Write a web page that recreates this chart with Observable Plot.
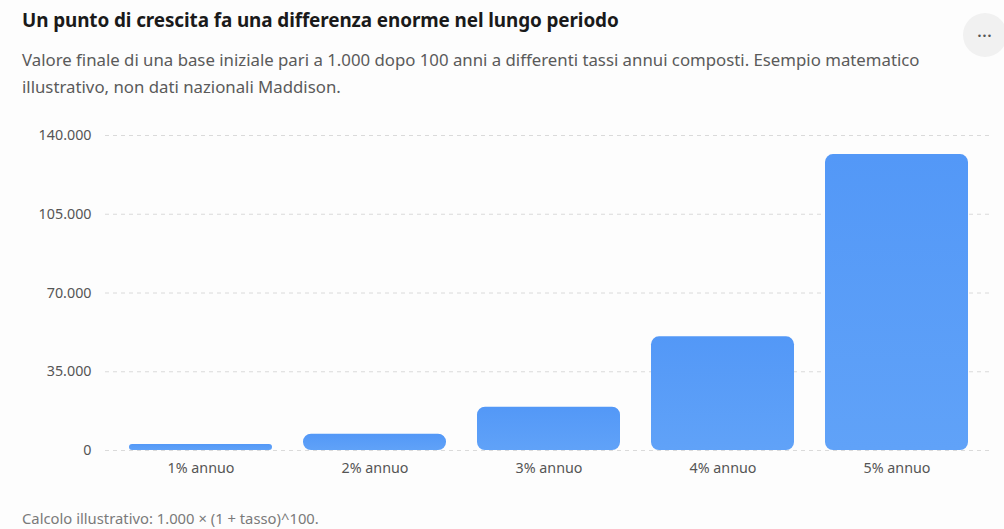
<!DOCTYPE html>
<html>
<head>
<meta charset="utf-8">
<script src="https://cdn.jsdelivr.net/npm/d3@7"></script>
<script src="https://cdn.jsdelivr.net/npm/@observablehq/plot@0.6"></script>
<style>
  html, body { margin: 0; padding: 0; background: #fdfdfd; }
  body { width: 1004px; height: 529px; position: relative; overflow: hidden; font-family: "Noto Sans", "Open Sans", sans-serif; }
  #title { position: absolute; left: 22px; top: 7px; font-size: 18.9px; font-weight: 700; color: #1a1a1a; letter-spacing: -0.1px; }
  #subtitle { position: absolute; left: 22px; top: 46px; width: 950px; font-size: 16.8px; line-height: 27px; color: #5a5a5a; }
  #more { position: absolute; left: 963px; top: 13px; width: 44px; height: 44px; border-radius: 50%; background: #f1f1f1; color: #555; font-size: 14px; text-align: center; line-height: 38px; font-weight: 700; letter-spacing: 1px; }
  #chart { position: absolute; left: 0; top: 110px; }
  #caption { position: absolute; left: 22px; top: 508px; font-size: 14.8px; color: #7a7a7a; }
</style>
</head>
<body>
<div id="title">Un punto di crescita fa una differenza enorme nel lungo periodo</div>
<div id="subtitle">Valore finale di una base iniziale pari a 1.000 dopo 100 anni a differenti tassi annui composti. Esempio matematico illustrativo, non dati nazionali Maddison.</div>
<div id="more">...</div>
<div id="chart"></div>
<div id="caption">Calcolo illustrativo: 1.000 × (1 + tasso)^100.</div>
<script>
const categories = ["1% annuo", "2% annuo", "3% annuo", "4% annuo", "5% annuo"];
const values = [2705, 7245, 19219, 50505, 131501];
const yTicks = [0, 35000, 70000, 105000, 140000];

const data = categories.map((c, i) => ({category: c, value: values[i]}));
const it = d3.formatLocale({decimal: ",", thousands: ".", grouping: [3], currency: ["€", ""]});
const fmt = it.format(",d");

const chart = Plot.plot({
  width: 1004,
  height: 370,
  marginLeft: 105,
  marginRight: 12,
  marginTop: 25,
  marginBottom: 30,
  style: {background: "transparent", fontFamily: "Noto Sans, Open Sans, sans-serif", fontSize: "14.3px", color: "#666"},
  x: {domain: categories, paddingInner: 0.18, paddingOuter: 0.135, label: null},
  y: {domain: [0, 140000], ticks: yTicks, label: null},
  marks: [
    Plot.gridY(yTicks, {stroke: "#dadada", strokeOpacity: 1, strokeDasharray: "4,4"}),
    Plot.barY(data, {x: "category", y: "value", fill: "url(#barGrad)", rx: 8, className: "bars"}),
    Plot.axisY(yTicks, {tickSize: 0, tickPadding: 14, tickFormat: fmt, fill: "#555"}),
    Plot.axisX({tickSize: 0, tickPadding: 12, fill: "#555"})
  ]
});

const svg = d3.select(chart);
const defs = svg.insert("defs", ":first-child");
const g = defs.append("linearGradient").attr("id", "barGrad").attr("x1", 0).attr("y1", 0).attr("x2", 0).attr("y2", 1);
g.append("stop").attr("offset", "0%").attr("stop-color", "#5398f7");
g.append("stop").attr("offset", "100%").attr("stop-color", "#60a2f8");

// keep corners circular on short bars
svg.selectAll("g.bars rect").each(function() {
  const h = +this.getAttribute("height");
  const r = Math.min(8, h / 2);
  this.setAttribute("rx", r);
  this.setAttribute("ry", r);
});

document.getElementById("chart").appendChild(chart);
</script>
</body>
</html>
